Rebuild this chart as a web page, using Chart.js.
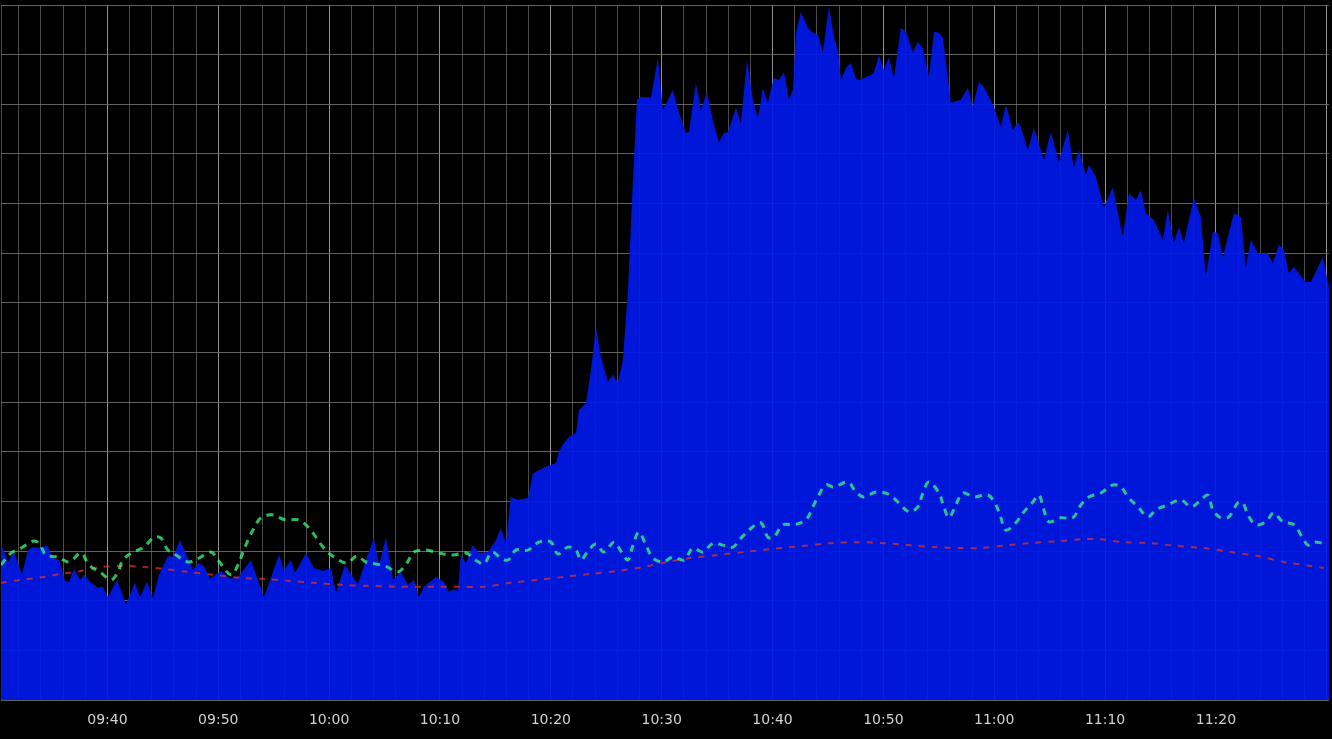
<!DOCTYPE html>
<html>
<head>
<meta charset="utf-8">
<script src="https://cdn.jsdelivr.net/npm/chart.js@4.4.1/dist/chart.umd.min.js"></script>
<style>
  html, body { margin: 0; padding: 0; background: #000; }
  #wrap { width: 1332px; height: 739px; }
</style>
</head>
<body>
<div id="wrap"><canvas id="chart" width="1332" height="739"></canvas></div>
<script>
// time axis is minutes since midnight (570.4 = 09:30:24)
const xMin = 570.4;
const xMax = 690.2;

// blue filled area
const blueTime = [570.40, 571.03, 571.57, 572.29, 572.84, 573.38, 574.01, 574.55, 575.09, 575.63,
  576.17, 576.53, 576.98, 577.53, 577.89, 578.52, 579.15, 579.60, 580.05, 580.86,
  581.68, 582.49, 582.94, 583.57, 584.11, 584.65, 585.46, 585.91, 586.55, 587.18,
  587.72, 588.17, 588.71, 589.25, 590.24, 591.06, 591.87, 592.95, 594.12, 595.48,
  595.93, 596.56, 596.92, 597.91, 598.63, 599.44, 600.17, 600.62, 601.43, 602.15,
  602.60, 603.32, 604.04, 604.50, 605.13, 605.76, 606.48, 607.11, 607.65, 608.10,
  608.55, 609.64, 610.36, 610.81, 611.17, 611.62, 611.89, 612.34, 612.97, 613.52,
  614.33, 615.05, 615.50, 615.95, 616.40, 617.03, 617.94, 618.39, 618.93, 619.83,
  620.46, 620.73, 621.09, 621.63, 622.27, 622.54, 623.17, 623.62, 624.07, 624.52,
  625.15, 625.60, 626.05, 626.50, 626.96, 627.41, 627.77, 628.13, 629.03, 629.66,
  630.11, 631.01, 631.56, 632.19, 632.46, 633.09, 633.54, 634.08, 634.62, 635.16,
  635.61, 635.98, 636.70, 637.15, 637.69, 638.23, 638.68, 639.13, 639.58, 640.12,
  640.58, 641.03, 641.48, 641.84, 642.11, 642.56, 643.19, 643.64, 644.09, 644.54,
  645.09, 645.54, 645.90, 646.17, 646.62, 647.07, 647.52, 647.79, 648.87, 649.14,
  649.60, 650.05, 650.50, 650.95, 651.58, 652.03, 652.66, 653.11, 653.56, 654.11,
  654.56, 655.01, 655.37, 656.09, 656.99, 657.62, 658.07, 658.62, 659.07, 659.97,
  660.60, 661.05, 661.68, 662.13, 662.40, 663.04, 663.58, 664.48, 665.11, 665.83,
  666.64, 667.18, 667.64, 668.27, 668.54, 669.17, 669.89, 670.70, 671.60, 672.15,
  672.78, 673.23, 673.68, 674.40, 675.21, 675.66, 676.20, 676.66, 677.11, 678.01,
  678.64, 679.09, 679.72, 680.17, 680.62, 681.62, 682.25, 682.70, 683.15, 683.78,
  684.68, 685.13, 685.68, 686.13, 686.58, 687.03, 688.11, 688.56, 689.64, 690.20];
const blueValue = [3.16, 2.78, 2.98, 2.54, 3.02, 3.08, 3.06, 3.12, 2.86, 2.82,
  2.40, 2.38, 2.64, 2.42, 2.52, 2.36, 2.26, 2.28, 2.07, 2.42,
  1.93, 2.36, 2.07, 2.38, 2.05, 2.52, 2.90, 2.88, 3.22, 2.90,
  2.62, 2.76, 2.70, 2.44, 2.60, 2.44, 2.50, 2.82, 2.07, 2.92,
  2.62, 2.82, 2.56, 2.96, 2.66, 2.60, 2.66, 2.16, 2.72, 2.48,
  2.34, 2.82, 3.26, 2.72, 3.28, 2.42, 2.58, 2.32, 2.42, 2.07,
  2.28, 2.48, 2.38, 2.18, 2.22, 2.20, 2.92, 2.76, 3.12, 2.96,
  2.98, 3.22, 3.46, 3.16, 4.09, 4.03, 4.07, 4.57, 4.63, 4.73,
  4.77, 5.00, 5.14, 5.30, 5.38, 5.84, 5.98, 6.65, 7.51, 6.91,
  6.41, 6.55, 6.39, 6.85, 8.26, 10.48, 12.09, 12.15, 12.13, 12.93,
  11.89, 12.29, 11.83, 11.42, 11.44, 12.43, 11.89, 12.23, 11.68, 11.24,
  11.42, 11.44, 11.93, 11.62, 12.89, 12.09, 11.72, 12.33, 12.03, 12.53,
  12.49, 12.65, 12.09, 12.29, 13.44, 13.86, 13.54, 13.44, 13.40, 13.05,
  13.96, 13.36, 13.09, 12.49, 12.73, 12.83, 12.53, 12.49, 12.59, 12.63,
  12.99, 12.69, 12.95, 12.53, 13.54, 13.46, 13.05, 13.26, 13.13, 12.55,
  13.46, 13.44, 13.34, 12.03, 12.09, 12.33, 11.95, 12.45, 12.35, 11.95,
  11.54, 11.99, 11.48, 11.64, 11.54, 11.08, 11.52, 10.88, 11.44, 10.84,
  11.48, 10.72, 11.08, 10.58, 10.78, 10.54, 9.93, 10.33, 9.33, 10.21,
  10.07, 10.27, 9.81, 9.67, 9.27, 9.87, 9.21, 9.53, 9.21, 10.11,
  9.73, 8.52, 9.43, 9.41, 8.92, 9.81, 9.73, 8.72, 9.27, 9.00,
  9.00, 8.80, 9.17, 9.07, 8.60, 8.72, 8.42, 8.42, 8.92, 8.32];

// green dashed line
const greenTime = [570.40, 571.30, 572.20, 573.29, 573.83, 574.46, 575.54, 576.53, 577.62, 578.34,
  579.42, 580.32, 580.95, 581.40, 582.31, 583.30, 584.20, 584.83, 585.46, 586.19,
  587.27, 588.26, 589.34, 589.97, 591.15, 591.78, 592.23, 592.68, 593.22, 593.85,
  594.84, 596.02, 597.19, 598.09, 598.81, 599.53, 600.44, 601.61, 602.51, 603.32,
  604.23, 605.22, 606.21, 607.02, 607.65, 608.74, 609.91, 611.17, 612.34, 613.34,
  613.97, 614.69, 615.50, 616.13, 616.85, 617.94, 618.93, 620.01, 620.64, 621.54,
  622.27, 622.72, 623.35, 624.07, 624.79, 625.69, 626.32, 626.96, 627.41, 627.95,
  628.58, 629.21, 630.11, 631.01, 632.01, 632.82, 633.72, 634.62, 635.52, 636.43,
  637.15, 638.23, 638.96, 639.58, 640.12, 640.94, 641.93, 643.01, 643.64, 644.18,
  644.82, 645.54, 646.80, 647.52, 648.24, 649.33, 650.41, 651.40, 652.30, 653.11,
  653.56, 654.11, 655.01, 655.46, 655.91, 656.54, 657.17, 658.16, 659.43, 660.15,
  660.60, 661.05, 661.95, 662.67, 663.49, 664.03, 664.48, 664.93, 666.01, 667.09,
  667.82, 668.54, 669.62, 670.70, 671.42, 672.15, 672.96, 673.86, 674.58, 675.66,
  676.84, 677.74, 678.46, 679.27, 679.72, 680.44, 681.17, 681.98, 682.43, 682.88,
  683.60, 684.50, 685.22, 686.04, 687.03, 687.84, 688.29, 688.83, 689.64];
const greenValue = [2.72, 2.96, 3.06, 3.20, 3.16, 2.92, 2.88, 2.78, 2.96, 2.72,
  2.56, 2.42, 2.58, 2.82, 2.98, 3.08, 3.28, 3.26, 3.02, 2.92,
  2.78, 2.86, 2.98, 2.82, 2.52, 2.72, 2.98, 3.22, 3.46, 3.67,
  3.73, 3.63, 3.63, 3.49, 3.28, 3.06, 2.88, 2.76, 2.90, 2.78,
  2.74, 2.68, 2.58, 2.76, 2.98, 3.02, 2.96, 2.92, 2.96, 2.80,
  2.74, 2.98, 2.86, 2.82, 3.02, 3.02, 3.18, 3.18, 2.94, 3.08,
  3.02, 2.82, 3.00, 3.14, 2.98, 3.18, 3.00, 2.82, 3.12, 3.38,
  3.12, 2.86, 2.78, 2.88, 2.82, 3.06, 2.98, 3.16, 3.12, 3.08,
  3.26, 3.49, 3.57, 3.28, 3.28, 3.53, 3.53, 3.63, 3.89, 4.13,
  4.33, 4.29, 4.39, 4.19, 4.09, 4.19, 4.15, 3.97, 3.79, 3.89,
  4.17, 4.39, 4.17, 3.89, 3.67, 3.93, 4.17, 4.09, 4.13, 3.93,
  3.67, 3.42, 3.57, 3.79, 3.99, 4.13, 3.83, 3.59, 3.67, 3.67,
  3.93, 4.09, 4.17, 4.33, 4.29, 4.07, 3.89, 3.69, 3.83, 3.93,
  4.03, 3.89, 3.99, 4.13, 3.83, 3.67, 3.69, 3.97, 3.97, 3.73,
  3.53, 3.59, 3.77, 3.59, 3.53, 3.26, 3.12, 3.18, 3.16];

// red dashed line
const redTime = [570.40, 572.20, 574.28, 575.81, 577.62, 579.42, 581.49, 583.30, 585.10, 587.27,
  589.61, 592.05, 594.12, 596.29, 598.63, 601.07, 603.50, 606.48, 609.46, 611.62,
  613.97, 616.40, 618.84, 621.18, 623.62, 626.05, 628.40, 630.56, 632.64, 635.07,
  637.42, 639.85, 642.56, 645.27, 647.70, 650.05, 652.21, 654.56, 656.99, 658.80,
  661.23, 663.31, 665.74, 668.09, 669.35, 671.69, 674.13, 676.57, 678.91, 681.35,
  683.78, 686.13, 688.56, 689.73];
const redValue = [2.36, 2.42, 2.48, 2.54, 2.60, 2.68, 2.70, 2.68, 2.64, 2.58,
  2.52, 2.46, 2.44, 2.40, 2.36, 2.32, 2.30, 2.28, 2.28, 2.28,
  2.28, 2.36, 2.42, 2.48, 2.54, 2.60, 2.68, 2.78, 2.86, 2.92,
  2.98, 3.04, 3.10, 3.16, 3.18, 3.16, 3.12, 3.08, 3.06, 3.06,
  3.12, 3.16, 3.20, 3.24, 3.24, 3.18, 3.16, 3.10, 3.06, 2.98,
  2.90, 2.78, 2.70, 2.66];

// labelled times (every 10 minutes)
const labelTimes = [580, 590, 600, 610, 620, 630, 640, 650, 660, 670, 680];

function pairs(ts, vs) {
  return ts.map((t, i) => ({ x: t, y: vs[i] }));
}

function hhmm(m) {
  const h = Math.floor(m / 60);
  const mm = Math.round(m - h * 60);
  return String(h).padStart(2, "0") + ":" + String(mm).padStart(2, "0");
}

const ctx = document.getElementById("chart").getContext("2d");
new Chart(ctx, {
  type: "line",
  data: {
    datasets: [
      {
        label: "green",
        data: pairs(greenTime, greenValue),
        borderColor: "rgba(55,255,125,0.75)",
        borderWidth: 3,
        borderDash: [7, 6],
        pointRadius: 0,
        tension: 0.35,
        fill: false,
        order: 0
      },
      {
        label: "red",
        data: pairs(redTime, redValue),
        borderColor: "rgba(225,55,35,0.7)",
        borderWidth: 2,
        borderDash: [6, 7],
        pointRadius: 0,
        tension: 0.3,
        fill: false,
        order: 1
      },
      {
        label: "blue",
        data: pairs(blueTime, blueValue),
        borderWidth: 0,
        borderColor: "rgba(0,24,235,0.92)",
        backgroundColor: "rgba(0,24,235,0.92)",
        pointRadius: 0,
        tension: 0,
        fill: "origin",
        order: 2
      }
    ]
  },
  options: {
    responsive: false,
    animation: false,
    layout: { padding: { left: 1, right: 3, top: 5, bottom: 0 } },
    plugins: { legend: { display: false }, tooltip: { enabled: false } },
    scales: {
      x: {
        type: "linear",
        min: xMin,
        max: xMax,
        afterBuildTicks: (axis) => {
          const ticks = [{ value: xMin }];
          for (let m = 572; m <= 690; m += 2) ticks.push({ value: m });
          axis.ticks = ticks;
        },
        afterFit: (axis) => {
          axis.height = 39;
          axis.paddingLeft = 0;
          axis.paddingRight = 0;
        },
        border: { display: false },
        grid: {
          drawTicks: false,
          lineWidth: 1,
          color: (c) => {
            const v = c.tick ? c.tick.value : 0;
            return Math.abs(v % 10) < 0.01 ? "rgba(160,160,160,0.9)" : "rgba(100,100,100,0.75)";
          }
        },
        ticks: {
          autoSkip: false,
          maxRotation: 0,
          padding: 12,
          color: "#d2d2d2",
          font: { family: "DejaVu Sans", size: 14 },
          callback: (v) => (labelTimes.includes(v) ? hhmm(v) : "")
        }
      },
      y: {
        min: 0,
        max: 14,
        afterFit: (axis) => { axis.width = 0; },
        border: { display: false },
        grid: { drawTicks: false, color: "rgba(120,120,120,0.8)", lineWidth: 1 },
        ticks: { display: false, stepSize: 1 }
      }
    }
  }
});
</script>
</body>
</html>
